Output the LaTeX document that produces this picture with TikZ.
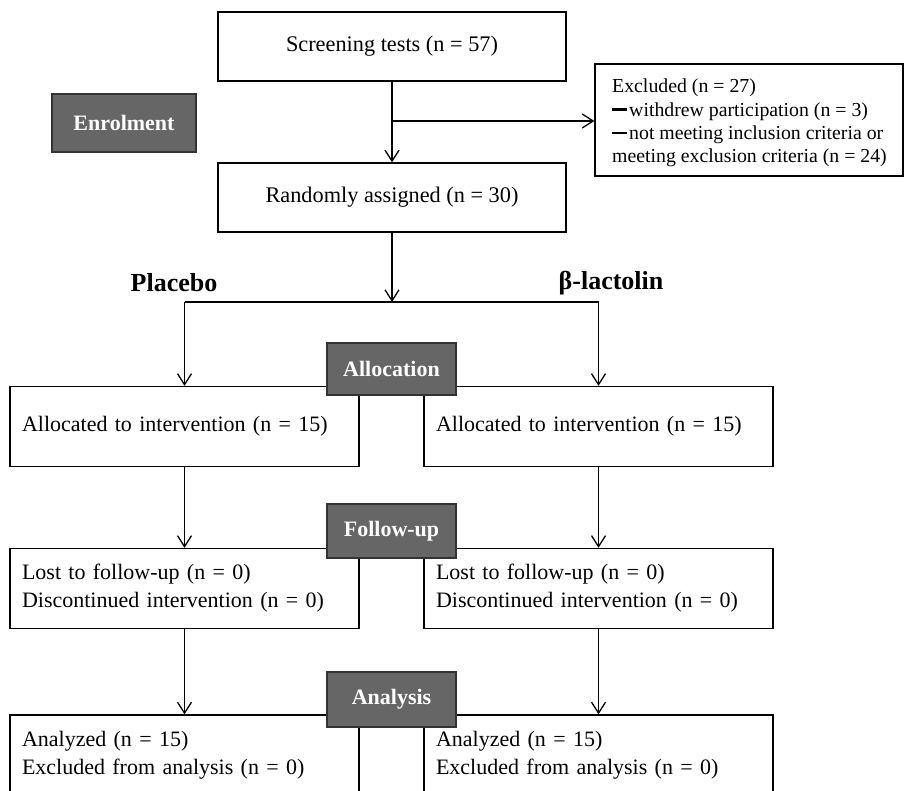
\documentclass[tikz,border=0pt]{standalone}
\usepackage{fontspec}
\setmainfont{Liberation Serif}
\usetikzlibrary{arrows.meta}
\begin{document}
\begin{tikzpicture}[x=1pt,y=-1pt,
  topbox/.style={draw=black, line width=1.3pt, fill=white, rectangle,
    minimum width=348pt, minimum height=69pt, inner sep=0pt,
    font=\fontsize{22.3}{28}\selectfont},
  sidebox/.style={draw=black, line width=1.3pt, fill=white, rectangle,
    minimum width=349pt, minimum height=80pt, inner xsep=12pt, inner ysep=0pt,
    text width=325pt, align=left, font=\fontsize{22}{28}\selectfont},
  exbox/.style={draw=black, line width=1.3pt, fill=white, rectangle,
    minimum width=308pt, minimum height=112pt, inner sep=0pt},
  extext/.style={inner sep=0pt, align=left, font=\fontsize{19.8}{23.3}\selectfont},
  stage/.style={draw=black!80, line width=1.3pt, fill=black!60, rectangle,
    text=white, inner sep=0pt, font=\bfseries\fontsize{22}{26}\selectfont},
  armlabel/.style={font=\bfseries\fontsize{26}{30}\selectfont},
  arr/.style={-{Straight Barb[length=11pt,width=14pt]}, line width=1.3pt},
  conn/.style={line width=1.3pt}
]
\useasboundingbox (0,0) rectangle (904,790);
\clip (0,0) rectangle (904,790);
\fill[white] (0,0) rectangle (904,790);

% enrolment
\node[topbox] (screen) at (392,46.5) {Screening tests (n = 57)};
\node[topbox] (random) at (392,197.5) {Randomly assigned (n = 30)};
\node[exbox] (excl) at (749,120) {};
\node[extext, anchor=west] (excltext) at (612,123) {Excluded (n = 27)\\
  \rule[0.28em]{15pt}{2.2pt}\kern2pt withdrew participation (n = 3)\\
  \rule[0.28em]{15pt}{2.2pt}\kern2pt not meeting inclusion criteria or\\
  meeting exclusion criteria (n = 24)};
\node[stage, minimum width=144pt, minimum height=58pt] (enrol) at (124,123) {Enrolment};

\coordinate (split) at (392,121);
\draw[arr] (screen.south) -- (random.north);
\draw[arr] (split) -- (excl.west |- split);

% branching
\coordinate (bm) at (392,302);
\coordinate (bl) at (184.5,302);
\coordinate (br) at (598.5,302);
\draw[arr] (random.south) -- (bm);
\draw[conn] (bl) -- (br);

\node[armlabel] (plac) at (174,283) {Placebo};
\node[armlabel] (lact) at (611,283) {β-lactolin};

% allocation
\node[sidebox] (allocL) at (184.5,426.5) {Allocated to intervention (n = 15)};
\node[sidebox] (allocR) at (598.5,426.5) {Allocated to intervention (n = 15)};
\draw[arr] (bl) -- (allocL.north);
\draw[arr] (br) -- (allocR.north);
\node[stage, minimum width=129pt, minimum height=52pt] (allocS) at (391.5,369) {Allocation};

% follow-up
\node[sidebox] (lostL) at (184.5,588.5) {Lost to follow-up (n = 0)\\Discontinued intervention (n = 0)};
\node[sidebox] (lostR) at (598.5,588.5) {Lost to follow-up (n = 0)\\Discontinued intervention (n = 0)};
\draw[arr] (allocL.south) -- (lostL.north);
\draw[arr] (allocR.south) -- (lostR.north);
\node[stage, minimum width=129pt, minimum height=54pt] (follS) at (391.5,531) {Follow-up};

% analysis
\node[sidebox] (anaL) at (184.5,755) {Analyzed (n = 15)\\Excluded from analysis (n = 0)};
\node[sidebox] (anaR) at (598.5,755) {Analyzed (n = 15)\\Excluded from analysis (n = 0)};
\draw[arr] (lostL.south) -- (anaL.north);
\draw[arr] (lostR.south) -- (anaR.north);
\node[stage, minimum width=129pt, minimum height=55pt] (anaS) at (391.5,699.5) {Analysis};
\end{tikzpicture}
\end{document}
